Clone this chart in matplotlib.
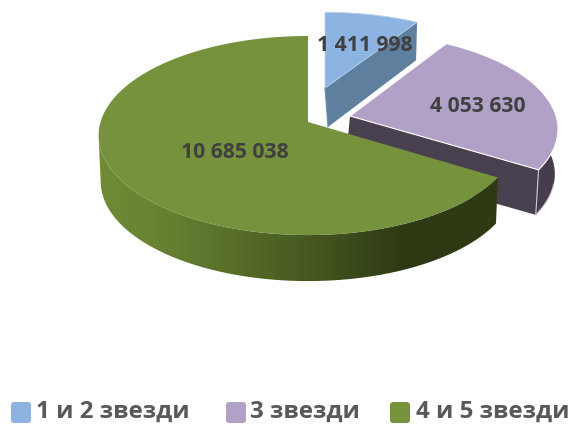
import numpy as np
from matplotlib import pyplot as plt
from matplotlib.patches import Polygon, FancyBboxPatch

# Data
categories = ["1 и 2 звезди", "3 звезди", "4 и 5 звезди"]
values = [1411998, 4053630, 10685038]
value_labels = ["1 411 998", "4 053 630", "10 685 038"]

# Colours
top_colors = ["#8DB3E2", "#B2A1C7", "#76923C"]
FONT = ["Open Sans", "DejaVu Sans"]

# Perspective of the pie, in pixels
RX, RY, PERSP = 205.0, 97.7, 0.136


def rim(theta, apex, sx=1.0, sy=1.0):
    s = 1.0 / (1.0 + PERSP * np.cos(theta))
    x = apex[0] + sx * RX * np.sin(theta) * s
    y = apex[1] - sy * RY * np.cos(theta) * s
    return np.column_stack([x, y])


def shifted(pts, apex, depth, shrink):
    out = pts.copy()
    out[:, 0] = apex[0] + (pts[:, 0] - apex[0]) * shrink
    out[:, 1] = pts[:, 1] + depth
    return out


fig = plt.figure(figsize=(5.74, 4.25), dpi=100)
ax = fig.add_axes([0, 0, 1, 1])
ax.set_xlim(0, 574)
ax.set_ylim(425, 0)
ax.axis("off")

# slice angles, clockwise from the top
edges = np.concatenate([[0], np.cumsum(values)]) / np.sum(values) * 2 * np.pi
arcs = [np.linspace(edges[i], edges[i + 1], 120) for i in range(len(values))]

# --- blue slice, pulled out to the back
apex = (325, 88)
top = rim(arcs[0], apex, 0.96, 0.88)
corner = top[-1]
ax.add_patch(Polygon([apex, corner, corner + [-1, 38], (328, 127)],
                     closed=True, fc="#5F7F9F", ec="none", zorder=1))
ax.add_patch(Polygon(np.vstack([[apex], top]), closed=True, fc=top_colors[0],
                     ec="#B8D0EC", lw=0.6, zorder=2))
ax.plot([apex[0], 328], [apex[1], 127], color="#6F8FB0", lw=0.8, zorder=2)

# --- purple slice, pulled out to the right
apex = (350, 116)
top = rim(arcs[1], apex, 1.005, 0.97)
low = shifted(top, apex, 45, 0.985)
ax.add_patch(Polygon([apex, top[-1], low[-1], low[-1] + [-190, -54]],
                     closed=True, fc="#49404F", ec="none", zorder=3))
outer = top[70:]
ax.add_patch(Polygon(np.vstack([outer, low[70:][::-1]]), closed=True,
                     fc="#453C4E", ec="none", zorder=3))
ax.plot([top[-1][0], low[-1][0]], [top[-1][1], low[-1][1]], color="#CFC6DA",
        lw=0.8, zorder=4)
ax.plot(low[95:, 0], low[95:, 1], color="#CFC6DA", lw=0.8, zorder=4)
ax.add_patch(Polygon(np.vstack([[apex], top]), closed=True, fc=top_colors[1],
                     ec="#FFFFFF", lw=0.8, zorder=4))

# --- green slice
apex = (308, 122)
top = rim(arcs[2], apex, 1.012)
low = shifted(top, apex, 46, 0.99)
# side wall runs from the cut edge round to the leftmost point of the rim
n_side = np.argmin(top[:, 0]) + 1
side = Polygon(np.vstack([top[:n_side], low[:n_side][::-1]]), closed=True,
               fc="none", ec="none", transform=ax.transData)
ax.add_patch(side)
grad = np.interp(np.linspace(95, 505, 256), [95, 150, 200, 300, 340, 400, 505],
                 [0, 0.1, 0.25, 0.6, 0.75, 1.0, 1.0])
c0, c1 = np.array([0x70, 0x8C, 0x36]) / 255, np.array([0x2E, 0x3A, 0x14]) / 255
img = (c0[None, :] * (1 - grad[:, None]) + c1[None, :] * grad[:, None])[None, :, :]
im = ax.imshow(img, extent=(95, 505, 290, 120), aspect="auto", zorder=5)
im.set_clip_path(side)
ax.set_xlim(0, 574)
ax.set_ylim(425, 0)
ax.add_patch(Polygon(np.vstack([[apex], top]), closed=True, fc=top_colors[2],
                     ec="none", zorder=6))

# value labels
label_pos = [(365, 45), (478, 106), (235, 153)]
for txt, (x, y) in zip(value_labels, label_pos):
    ax.text(x, y, txt, ha="center", va="center", fontsize=15.2, fontweight="bold",
            color="#404040", family=FONT, zorder=8)

# legend
swatch_x = [11, 226, 390]
text_x = [36, 250, 416]
for i, name in enumerate(categories):
    ax.add_patch(FancyBboxPatch((swatch_x[i] + 2, 404), 16, 17,
                                boxstyle="round,pad=2,rounding_size=3",
                                fc=top_colors[i], ec="none", zorder=8))
    ax.text(text_x[i], 412, name, ha="left", va="center", fontsize=17.4,
            fontweight="bold", color="#595959", family=FONT, zorder=8)

fig.savefig("out.png", dpi=100)
